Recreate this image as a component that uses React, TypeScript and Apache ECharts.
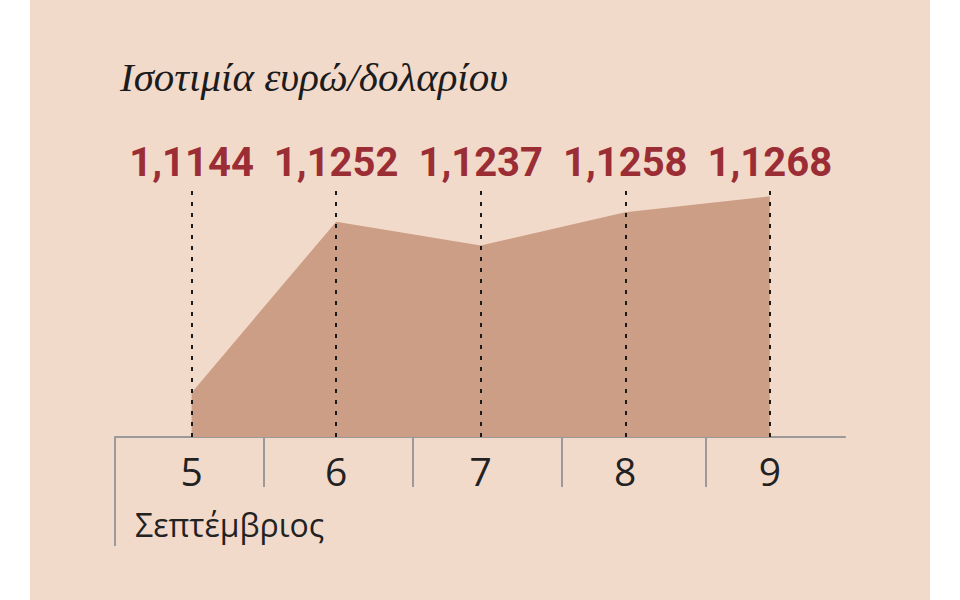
import { useEffect, useRef } from "react";
import * as echarts from "echarts";

// Σεπτέμβριος, daily EUR/USD rate
const days = [5, 6, 7, 8, 9];
const rates = [1.1144, 1.1252, 1.1237, 1.1258, 1.1268];
// boundaries between the day cells on the axis
const cellEdges = [4.47, 5.5, 6.53, 7.56, 8.56];

const fmt = (v: number) => v.toFixed(4).replace(".", ",");

export default function App() {
  const chartRef = useRef<HTMLDivElement>(null);

  useEffect(() => {
    document.body.style.margin = "0";
    if (!chartRef.current) return;
    const chart = echarts.init(chartRef.current, null, { renderer: "svg" });

    const axisGray = "#9a9a9a";

    chart.setOption({
      animation: false,
      backgroundColor: "#f2dacb",
      title: {
        text: "Ισοτιμία ευρώ/δολαρίου",
        left: 85,
        top: 51,
        textStyle: {
          fontFamily: "Liberation Serif",
          fontStyle: "italic",
          fontWeight: "normal",
          fontSize: 41,
          color: "#1c1c1c",
        },
      },
      grid: { left: 85, right: 85, top: 190, bottom: 163 },
      xAxis: [
        {
          type: "value",
          min: 4.47,
          max: 9.52,
          axisLine: { show: true, lineStyle: { color: axisGray, width: 2 } },
          axisTick: {
            show: true,
            inside: false,
            length: 50,
            customValues: cellEdges,
            lineStyle: { color: axisGray, width: 2 },
          },
          axisLabel: {
            customValues: days,
            margin: 14,
            fontFamily: "Open Sans",
            fontSize: 39,
            color: "#222",
          },
          splitLine: { show: false },
        },
        {
          type: "value",
          position: "bottom",
          min: 4.47,
          max: 9.52,
          axisLine: { show: false },
          axisTick: {
            show: true,
            length: 109,
            customValues: [cellEdges[0]],
            lineStyle: { color: axisGray, width: 2 },
          },
          axisLabel: { show: false },
          splitLine: { show: false },
        },
      ],
      yAxis: {
        type: "value",
        min: 1.1116,
        max: 1.1272,
        show: false,
        splitLine: { show: false },
      },
      graphic: [
        {
          type: "text",
          left: 105,
          top: 508,
          style: {
            text: "Σεπτέμβριος",
            font: "32px 'Open Sans'",
            fill: "#222",
          },
        },
      ],
      series: [
        {
          type: "line",
          data: days.map((d, i) => [d, rates[i]]),
          symbol: "none",
          lineStyle: { width: 0 },
          areaStyle: { color: "#cc9e85", opacity: 1, origin: "start" },
          markLine: {
            silent: true,
            symbol: "none",
            lineStyle: { color: "#1a1a1a", type: [4, 7], width: 2 },
            label: {
              position: "end",
              distance: 8,
              fontFamily: "Roboto",
              fontWeight: "bold",
              fontSize: 40,
              color: "#9b2d35",
            },
            data: days.map((d, i) => ({
              xAxis: d,
              label: { formatter: fmt(rates[i]) },
            })),
          },
        },
      ],
    });

    return () => {
      chart.dispose();
    };
  }, []);

  return (
    <div style={{ width: 960, height: 600, background: "#fff", position: "relative" }}>
      <div
        ref={chartRef}
        style={{ position: "absolute", left: 30, top: 0, width: 900, height: 600 }}
      />
    </div>
  );
}
